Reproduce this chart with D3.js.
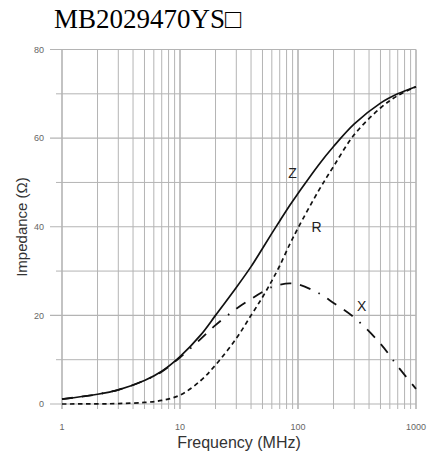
<!DOCTYPE html>
<html><head><meta charset="utf-8">
<script src="https://cdn.jsdelivr.net/npm/d3@7"></script>
<style>body{margin:0;background:#fff}svg{display:block}</style>
</head><body>
<svg id="c" width="440" height="454"></svg>
<script>
const title = "MB2029470YS\u25A1";
const freq = [1,2,3,5,7,10,15,20,30,40,50,60,70,85,100,150,200,300,500,700,1000];
const zVals = [1.1,2.2,3.2,5.3,7.4,10.7,15.6,20,26.3,31,35.1,38.5,41.3,44.8,47.5,54,58.1,63.2,67.9,70,71.6];
const rVals = [0,0.03,0.1,0.35,0.8,2.0,5.3,8.8,14.8,20,24.1,27.8,31.2,36,39.7,48.2,53.6,60.8,66.8,69.6,71.6];
const xVals = [1.1,2.2,3.2,5.3,7.3,10.5,14.7,17.8,21.5,23.7,25.3,26.4,26.9,27.2,27.0,25.0,22.8,19.5,13.6,8.5,3.4];
const xTickLabels = [1,10,100,1000];
const yTickLabels = [0,20,40,60,80];
const yMinor = [10,30,50,70];
const curveNames = ["Z","R","X"];
const labelFreq = [90,144,347];
const labelVal = [52,40,22.2];

const svg = d3.select("#c");
const x = d3.scaleLog().domain([1,1000]).range([62,416]);
const y = d3.scaleLinear().domain([0,80]).range([404,49.5]);
const grid = "#b4b4b4";

svg.append("text").attr("x",54).attr("y",28)
  .attr("font-family","'Liberation Serif','Times New Roman',serif")
  .attr("font-size",27).attr("fill","#000").text(title);

// vertical grid
const vTicks = [];
for (let d=1; d<1000; d*=10) for (let k=1;k<10;k++) vTicks.push(d*k);
vTicks.push(1000);
svg.append("g").selectAll("line").data(vTicks).join("line")
  .attr("x1",d=>x(d)).attr("x2",d=>x(d))
  .attr("y1",y(80)).attr("y2",y(0)+5)
  .attr("stroke",grid)
  .attr("stroke-width",d=>xTickLabels.includes(d)?1.6:1);

// horizontal grid
svg.append("g").selectAll("line").data(yTickLabels).join("line")
  .attr("x1",50).attr("x2",x(1000)).attr("y1",d=>y(d)).attr("y2",d=>y(d))
  .attr("stroke",grid).attr("stroke-width",1.2);
svg.append("g").selectAll("line").data(yMinor).join("line")
  .attr("x1",56).attr("x2",x(1000)).attr("y1",d=>y(d)).attr("y2",d=>y(d))
  .attr("stroke",grid).attr("stroke-width",1);

// tick labels
svg.append("g").selectAll("text").data(yTickLabels).join("text")
  .attr("x",44).attr("y",d=>y(d)).attr("dy","0.35em").attr("text-anchor","end")
  .attr("font-family","'Liberation Sans',Arial,sans-serif").attr("font-size",9)
  .attr("fill","#666").text(d=>d);
svg.append("g").selectAll("text").data(xTickLabels).join("text")
  .attr("x",d=>x(d)).attr("y",427).attr("dy","0.35em").attr("text-anchor","middle")
  .attr("font-family","'Liberation Sans',Arial,sans-serif").attr("font-size",9)
  .attr("fill","#666").text(d=>d);

// axis titles
svg.append("text").attr("x",239).attr("y",448).attr("text-anchor","middle")
  .attr("font-family","'Liberation Sans',Arial,sans-serif").attr("font-size",16)
  .attr("fill","#333").text("Frequency (MHz)");
svg.append("text").attr("transform","translate(27,227) rotate(-90)").attr("text-anchor","middle")
  .attr("font-family","'Liberation Sans',Arial,sans-serif").attr("font-size",15)
  .attr("fill","#333").text("Impedance (\u03A9)");

// curves
const line = d3.line().x(d=>x(d[0])).y(d=>y(d[1])).curve(d3.curveCatmullRom.alpha(0.5));
const series = [
  {v:zVals, dash:null, w:1.7},
  {v:rVals, dash:"4.5,3.5", w:1.7},
  {v:xVals, dash:"11,9,11,9,1.5,9", w:1.8}
];
series.forEach(s=>{
  svg.append("path").datum(freq.map((f,i)=>[f,s.v[i]]))
    .attr("d",line).attr("fill","none").attr("stroke","#111")
    .attr("stroke-width",s.w).attr("stroke-dasharray",s.dash);
});

svg.append("g").selectAll("text").data(curveNames).join("text")
  .attr("x",(d,i)=>x(labelFreq[i])).attr("y",(d,i)=>y(labelVal[i])).attr("dy","0.35em")
  .attr("text-anchor","middle").attr("font-family","'Liberation Sans',Arial,sans-serif")
  .attr("font-size",14).attr("fill","#222").text(d=>d);
</script>
</body></html>
